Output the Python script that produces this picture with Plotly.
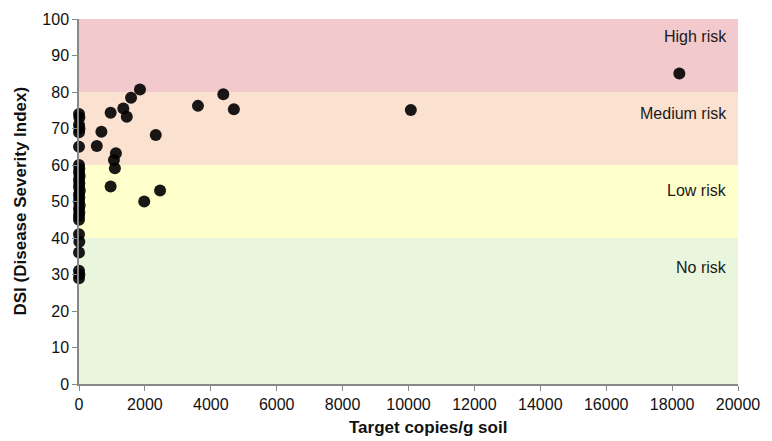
import plotly.graph_objects as go

# Data
copies_zero = [0, 10, 0, 15, 0, 0, 0, 10, 0, 20, 0, 10, 0, 25, 0, 10, 0, 20, 0, 10, 0, 0, 0, 10, 0, 0, 10, 0]
dsi_zero = [74, 73, 71, 70, 69, 65, 60, 59, 58, 57, 56, 55, 54, 53, 52, 51, 50, 49, 48, 47, 46, 45, 41, 39, 36, 31, 30, 29]

copies_other = [540, 680, 960, 1120, 1060, 1090, 960, 1980, 2460, 1345, 1450, 1580, 1850, 2330, 3610, 4380, 4700, 10070, 18220]
dsi_other = [65.2, 69.1, 74.3, 63.2, 61.4, 59.1, 54.1, 50.0, 53.0, 75.5, 73.2, 78.4, 80.7, 68.2, 76.2, 79.4, 75.3, 75.1, 85.1]

copies = copies_zero + copies_other
dsi = dsi_zero + dsi_other

band_names = ["No risk", "Low risk", "Medium risk", "High risk"]
band_lo = [0, 40, 60, 80]
band_hi = [40, 60, 80, 100]
band_colors = ["#E9F5DC", "#FFFFCC", "#FBE1D0", "#F2C9CC"]
band_label_y = [32, 53, 74, 95.3]

x_title = "Target copies/g soil"
y_title = "DSI (Disease Severity Index)"

FONT = "Liberation Sans, Arial, Helvetica"

plot_l, plot_r, plot_t, plot_b = 79, 34, 19, 57
pw = 772 - plot_l - plot_r
ph = 441 - plot_t - plot_b

fig = go.Figure()

for lo, hi, c in zip(band_lo, band_hi, band_colors):
    fig.add_shape(type="rect", xref="paper", yref="y", x0=0, x1=1, y0=lo, y1=hi,
                  fillcolor=c, line_width=0, layer="below")

for name, y in zip(band_names, band_label_y):
    fig.add_annotation(x=0.987, xref="paper", y=y, yref="y", text=name, showarrow=False,
                       xanchor="right", yanchor="middle",
                       font=dict(size=16, color="#1a1a1a", family=FONT))

fig.add_trace(go.Scatter(x=copies, y=dsi, mode="markers",
                         marker=dict(size=12, color="rgba(0,0,0,0.9)", line_width=0),
                         cliponaxis=False, showlegend=False, hoverinfo="skip"))

# axis titles placed as annotations (pixel targets converted to paper coords)
fig.add_annotation(x=(428 - plot_l) / pw, xref="paper", y=-(427 - (441 - plot_b)) / ph, yref="paper",
                   xanchor="center", yanchor="middle",
                   text="<b>" + x_title + "</b>", showarrow=False,
                   font=dict(size=17, color="#111111", family=FONT))
fig.add_annotation(x=-(plot_l - 20) / pw, xref="paper", y=0.5, yref="paper",
                   xanchor="center", yanchor="middle",
                   text="<b>" + y_title + "</b>", showarrow=False, textangle=-90,
                   font=dict(size=17, color="#111111", family=FONT))

tick_font = dict(size=16, color="#111111", family=FONT)
fig.update_layout(
    width=772, height=441,
    margin=dict(l=plot_l, r=plot_r, t=plot_t, b=plot_b),
    plot_bgcolor="white", paper_bgcolor="white",
    font=dict(family=FONT, size=16, color="#111111"),
    xaxis=dict(range=[0, 20000], dtick=2000, tickformat="d", showgrid=False, zeroline=False,
               showline=True, linecolor="#888888", linewidth=1.5,
               ticks="outside", ticklen=5, tickcolor="#888888",
               tickfont=tick_font),
    yaxis=dict(range=[0, 100], dtick=10, showgrid=False, zeroline=False,
               showline=True, linecolor="#888888", linewidth=1.5,
               ticks="outside", ticklen=5, tickcolor="#888888",
               tickfont=tick_font),
)

fig.write_html("out.html", config={"displayModeBar": False},
               post_script="document.body.style.margin='0';document.body.style.overflow='hidden';")
